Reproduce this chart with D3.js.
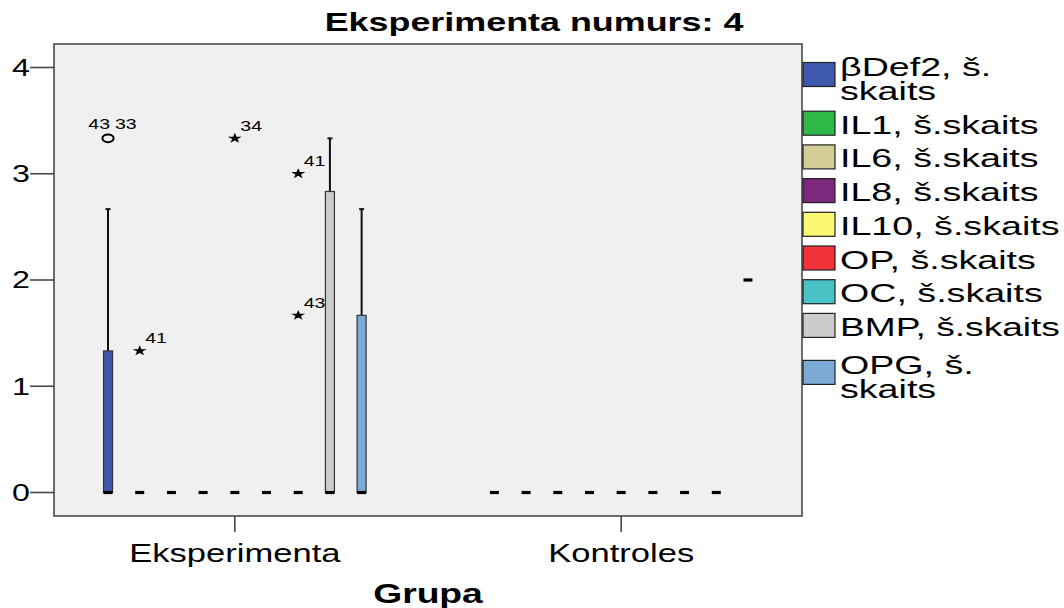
<!DOCTYPE html>
<html>
<head>
<meta charset="utf-8">
<script src="https://cdn.jsdelivr.net/npm/d3@7"></script>
<style>
  html, body { margin: 0; padding: 0; background: #fff; }
  svg { display: block; font-family: "Liberation Sans", Arial, sans-serif; }
</style>
</head>
<body>
<svg id="chart" width="1064" height="608"></svg>
<script>
// ---------- data ----------
const title = "Eksperimenta numurs: 4";
const xTitle = "Grupa";
const groups = ["Eksperimenta", "Kontroles"];
const series = ["βDef2, š. skaits", "IL1, š.skaits", "IL6, š.skaits", "IL8, š.skaits",
  "IL10, š.skaits", "OP, š.skaits", "OC, š.skaits", "BMP, š.skaits", "OPG, š. skaits"];
const colors = ["#3E58AC", "#2EB848", "#D3CE97", "#7C287D", "#FBF873",
  "#EF3338", "#48C2C5", "#CCCCCC", "#7AAAD5"];
const yTicks = [0, 1, 2, 3, 4];

// box statistics, one value per series
const expQ1 = [0, 0, 0, 0, 0, 0, 0, 0, 0];
const expMedian = [0, 0, 0, 0, 0, 0, 0, 0, 0];
const expQ3 = [1.333, 0, 0, 0, 0, 0, 0, 2.833, 1.667];
const expWhiskerLow = [0, 0, 0, 0, 0, 0, 0, 0, 0];
const expWhiskerHigh = [2.667, 0, 0, 0, 0, 0, 0, 3.333, 2.667];

const konQ1 = [0, 0, 0, 0, 0, 0, 0, 0, 2];
const konMedian = [0, 0, 0, 0, 0, 0, 0, 0, 2];
const konQ3 = [0, 0, 0, 0, 0, 0, 0, 0, 2];
const konWhiskerLow = [0, 0, 0, 0, 0, 0, 0, 0, 2];
const konWhiskerHigh = [0, 0, 0, 0, 0, 0, 0, 0, 2];

// outliers (o) and extremes (*)
const outlierGroup = ["Eksperimenta", "Eksperimenta", "Eksperimenta", "Eksperimenta", "Eksperimenta"];
const outlierSeries = ["βDef2, š. skaits", "IL1, š.skaits", "IL10, š.skaits", "OC, š.skaits", "OC, š.skaits"];
const outlierValue = [3.333, 1.333, 3.333, 3.0, 1.667];
const outlierKind = ["outlier", "extreme", "extreme", "extreme", "extreme"];
const outlierCases = [["43", "33"], ["41"], ["34"], ["41"], ["43"]];

// ---------- layout ----------
const plot = { left: 54, right: 802, top: 44, bottom: 516 };
const svg = d3.select("#chart");

const x = d3.scalePoint().domain(groups).range([plot.left, plot.right]).padding(0.468);
const xs = d3.scalePoint().domain(series).range([-126.8, 126.8]);
const y = d3.scaleLinear().domain([-0.221, 4.221]).range([plot.bottom, plot.top]);

// the original picture is stretched horizontally; text is drawn the same way
function stretchedText(sel, px, py, sx) {
  return sel.attr("transform", `translate(${px},${py}) scale(${sx},1)`);
}

// plot background
svg.append("rect")
  .attr("x", plot.left).attr("y", plot.top)
  .attr("width", plot.right - plot.left).attr("height", plot.bottom - plot.top)
  .attr("fill", "#F0F0F0").attr("stroke", "#4a4a4a").attr("stroke-width", 1.6);

// title
stretchedText(svg.append("text"), 534, 31, 1.38)
  .attr("text-anchor", "middle").attr("font-weight", "bold").attr("font-size", 26)
  .attr("fill", "#000").text(title);

// y axis
const yAxis = svg.append("g");
yTicks.forEach(t => {
  yAxis.append("line").attr("x1", plot.left - 24).attr("x2", plot.left)
    .attr("y1", y(t)).attr("y2", y(t)).attr("stroke", "#4a4a4a").attr("stroke-width", 1.6);
  stretchedText(yAxis.append("text"), plot.left - 24, y(t) + 8.3, 1.4)
    .attr("text-anchor", "end").attr("font-size", 23).attr("fill", "#000").text(t);
});

// x axis
const xAxis = svg.append("g");
groups.forEach(g => {
  xAxis.append("line").attr("x1", x(g)).attr("x2", x(g))
    .attr("y1", plot.bottom).attr("y2", plot.bottom + 16)
    .attr("stroke", "#4a4a4a").attr("stroke-width", 1.6);
  stretchedText(xAxis.append("text"), x(g), 562, 1.33)
    .attr("text-anchor", "middle").attr("font-size", 26).attr("fill", "#000").text(g);
});
stretchedText(svg.append("text"), (plot.left + plot.right) / 2, 603, 1.38)
  .attr("text-anchor", "middle").attr("font-weight", "bold").attr("font-size", 27)
  .attr("fill", "#000").text(xTitle);

// boxes
const stats = {
  "Eksperimenta": { q1: expQ1, med: expMedian, q3: expQ3, lo: expWhiskerLow, hi: expWhiskerHigh },
  "Kontroles": { q1: konQ1, med: konMedian, q3: konQ3, lo: konWhiskerLow, hi: konWhiskerHigh }
};
const boxW = 9;
const boxes = svg.append("g");
groups.forEach(g => {
  const s = stats[g];
  series.forEach((name, i) => {
    const cx = x(g) + xs(name);
    if (s.hi[i] > s.q3[i]) {
      boxes.append("line").attr("x1", cx).attr("x2", cx)
        .attr("y1", y(s.q3[i])).attr("y2", y(s.hi[i]))
        .attr("stroke", "#111").attr("stroke-width", 2);
      boxes.append("line").attr("x1", cx - 2.5).attr("x2", cx + 2.5)
        .attr("y1", y(s.hi[i])).attr("y2", y(s.hi[i]))
        .attr("stroke", "#111").attr("stroke-width", 2);
    }
    if (s.lo[i] < s.q1[i]) {
      boxes.append("line").attr("x1", cx).attr("x2", cx)
        .attr("y1", y(s.q1[i])).attr("y2", y(s.lo[i]))
        .attr("stroke", "#111").attr("stroke-width", 2);
    }
    if (s.q3[i] > s.q1[i]) {
      boxes.append("rect")
        .attr("x", cx - boxW / 2).attr("y", y(s.q3[i]))
        .attr("width", boxW).attr("height", y(s.q1[i]) - y(s.q3[i]))
        .attr("fill", colors[i]).attr("stroke", "#333").attr("stroke-width", 1.2);
    }
    boxes.append("line").attr("x1", cx - boxW / 2).attr("x2", cx + boxW / 2)
      .attr("y1", y(s.med[i])).attr("y2", y(s.med[i]))
      .attr("stroke", "#000").attr("stroke-width", 3.2);
  });
});

// outliers
const outs = svg.append("g");
const star = d3.symbol().type(d3.symbolStar).size(34);
outlierValue.forEach((v, k) => {
  const cx = x(outlierGroup[k]) + xs(outlierSeries[k]);
  const cy = y(v);
  if (outlierKind[k] === "outlier") {
    outs.append("ellipse").attr("cx", cx).attr("cy", cy).attr("rx", 5.6).attr("ry", 3.8)
      .attr("fill", "none").attr("stroke", "#000").attr("stroke-width", 2);
  } else {
    outs.append("path").attr("d", star())
      .attr("transform", `translate(${cx},${cy}) scale(1.35,1)`)
      .attr("fill", "#000");
  }
  const cases = outlierCases[k];
  if (cases.length === 1) {
    stretchedText(outs.append("text"), cx + 5.5, cy - 7.5, 1.3)
      .attr("font-size", 15).attr("fill", "#000").text(cases[0]);
  } else {
    stretchedText(outs.append("text"), cx + 2, cy - 9.5, 1.3)
      .attr("text-anchor", "end").attr("font-size", 15).attr("fill", "#000").text(cases[0]);
    stretchedText(outs.append("text"), cx + 7, cy - 9.5, 1.3)
      .attr("font-size", 15).attr("fill", "#000").text(cases[1]);
  }
});

// legend
const legend = svg.append("g");
const legendX = 840, legendMaxW = 220, legendSX = 1.42;
const lh = 24;
let baseline = 76;
series.forEach((name, i) => {
  const lines = name.split(/(?<=š\.) /);
  if (i > 0) baseline += lines.length > 1 ? 38 : 33.7;
  const swatchC = lines.length === 1 ? baseline - 10.5 : baseline - 1.5;
  legend.append("rect").attr("x", 803).attr("y", swatchC - 12)
    .attr("width", 32).attr("height", 24)
    .attr("fill", colors[i]).attr("stroke", "#222").attr("stroke-width", 1.2);
  const t = legend.append("text").attr("font-size", 26.5).attr("fill", "#000");
  lines.forEach((ln, j) => {
    t.append("tspan").attr("x", 0).attr("dy", j === 0 ? 0 : lh).text(ln);
  });
  let w = 0;
  t.selectAll("tspan").each(function () { w = Math.max(w, this.getComputedTextLength()); });
  const sx = Math.min(legendSX, legendMaxW / w);
  stretchedText(t, legendX, baseline, sx);
  baseline += (lines.length - 1) * lh;
});
</script>
</body>
</html>
